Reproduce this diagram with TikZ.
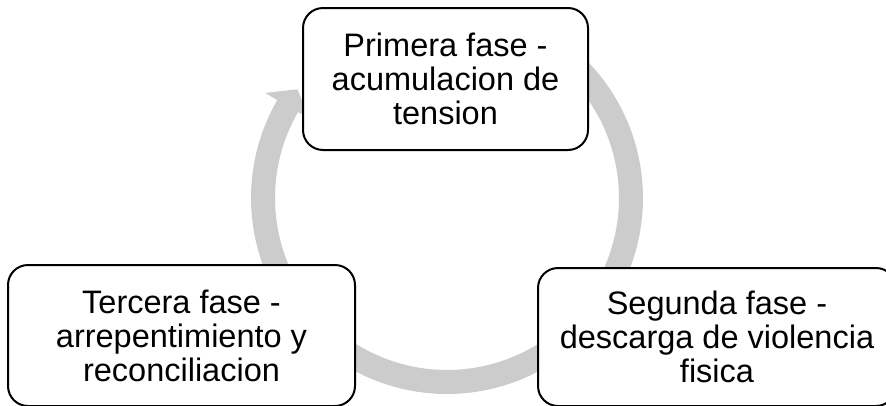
\documentclass[tikz,border=0pt]{standalone}
\usepackage{fontspec}
\setmainfont{Liberation Sans}
\definecolor{ringgray}{RGB}{204,204,204}
\tikzset{
  phase/.style={draw=black, line width=2pt, fill=white, rounded corners=20pt,
    align=center, inner sep=0pt, font=\fontsize{32.5}{34}\selectfont},
}
\begin{document}
\begin{tikzpicture}[x=1pt, y=-1pt]
\useasboundingbox (0,0) rectangle (886,405);
\clip (0,0) rectangle (886,405);
\fill[white] (0,0) rectangle (886,405);
% circular arrow
\begin{scope}[shift={(447,198)}]
  \fill[ringgray]
    plot[domain=-60:210, samples=120] ({196*cos(\x)},{196*sin(\x)})
    -- (210:210) -- (216:185) -- (210:158) -- (210:172)
    -- plot[domain=210:-60, samples=120] ({172*cos(\x)},{172*sin(\x)})
    -- cycle;
\end{scope}
% phases
\node[phase, minimum width=285pt, minimum height=142pt] (p1) at (445.5,79)
  {Primera fase -\\acumulacion de\\tension};
\node[phase, minimum width=358pt, minimum height=138pt] (p2) at (717,337)
  {Segunda fase -\\descarga de violencia\\fisica};
\node[phase, minimum width=347pt, minimum height=141pt] (p3) at (181.5,335.5)
  {Tercera fase -\\arrepentimiento y\\reconciliacion};
\end{tikzpicture}
\end{document}
